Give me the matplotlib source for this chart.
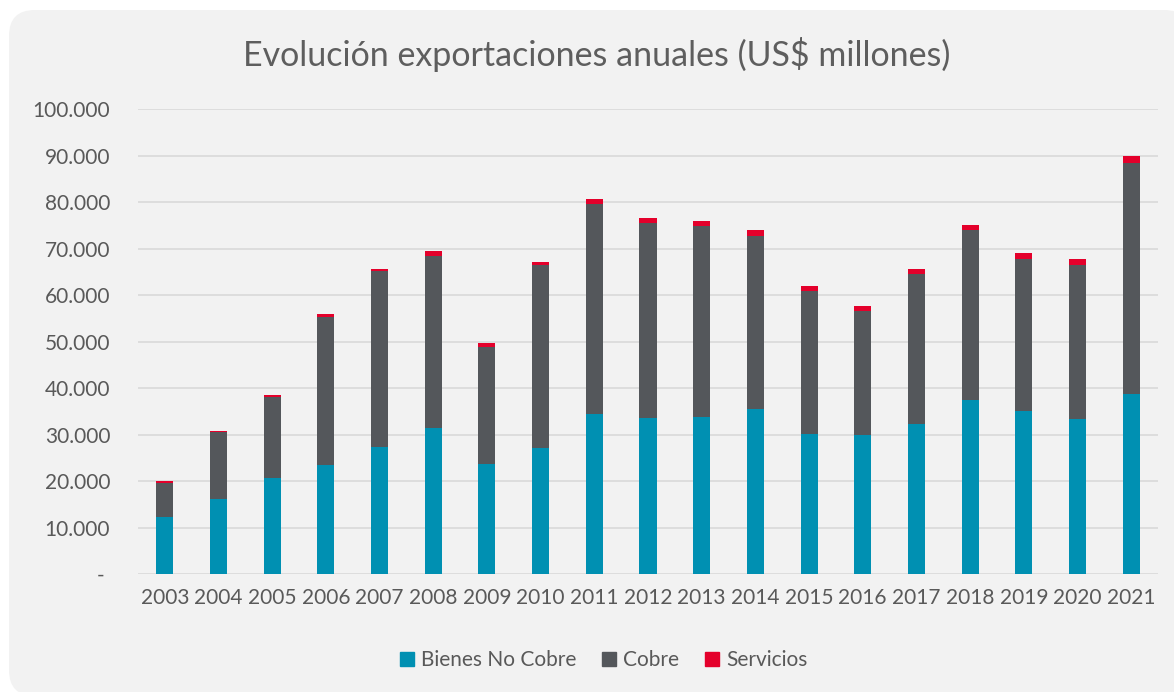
import matplotlib
matplotlib.use("Agg")
import matplotlib.pyplot as plt
from matplotlib.patches import FancyBboxPatch
from matplotlib.ticker import FuncFormatter, MultipleLocator
from matplotlib.lines import Line2D
import numpy as np

years = ["2003", "2004", "2005", "2006", "2007", "2008", "2009", "2010", "2011", "2012",
         "2013", "2014", "2015", "2016", "2017", "2018", "2019", "2020", "2021"]
bienes_no_cobre = [12400, 16200, 20600, 23400, 27400, 31500, 23600, 27100, 34400, 33500,
                   33900, 35500, 30100, 30000, 32400, 37400, 35000, 33300, 38800]
cobre = [7300, 14400, 17600, 32000, 37800, 37000, 25300, 39300, 45100, 41900,
         40900, 37200, 30700, 26600, 32200, 36500, 32800, 33100, 49600]
servicios = [350, 200, 300, 500, 500, 900, 800, 800, 1200, 1200,
             1200, 1300, 1100, 1000, 1000, 1100, 1300, 1300, 1400]
series_names = ["Bienes No Cobre", "Cobre", "Servicios"]
title = "Evolución exportaciones anuales (US$ millones)"

c_teal = "#0090B2"
c_gray = "#54575B"
c_red = "#E4002B"
txt = "#595959"
plt.rcParams['font.family'] = ['Lato', 'DejaVu Sans']

W, H = 1174, 692
fig = plt.figure(figsize=(W / 100, H / 100), dpi=100)
fig.patch.set_facecolor("white")
bg = FancyBboxPatch((9 / W, -4 / H), (1190 - 9) / W, (H - 10 + 4) / H,
                    boxstyle="round,pad=0,rounding_size=0.022",
                    transform=fig.transFigure, facecolor="#F2F2F2",
                    edgecolor="none", mutation_aspect=W / H, zorder=-10)
fig.patches.append(bg)

left, right, bottom, top = 138, 1158, 574.3, 109
ax = fig.add_axes([left / W, 1 - bottom / H, (right - left) / W, (bottom - top) / H])
ax.set_facecolor("none")
ax.set_zorder(5)

x = np.arange(len(years))
bnc = np.array(bienes_no_cobre)
cob = np.array(cobre)
ser = np.array(servicios)
bw = 0.317
ax.bar(x, bnc, width=bw, color=c_teal, zorder=3)
ax.bar(x, cob, width=bw, bottom=bnc, color=c_gray, zorder=3)
ax.bar(x, ser, width=bw, bottom=bnc + cob, color=c_red, zorder=3)

ax.set_xlim(-0.5, len(years) - 0.5)
ax.set_ylim(0, 100000)
ax.yaxis.set_major_locator(MultipleLocator(10000))
ax.yaxis.set_major_formatter(FuncFormatter(
    lambda v, p: "- " if v == 0 else f"{int(v):,}".replace(",", ".")))
ax.grid(axis="y", color="#D9D9D9", linewidth=1.2, zorder=0)
for s in ax.spines.values():
    s.set_visible(False)
ax.set_xticks(x)
ax.set_xticklabels(years)
ax.tick_params(axis="both", length=0, labelsize=15, labelcolor=txt)
ax.tick_params(axis="y", pad=20)
ax.tick_params(axis="x", pad=10)

fig.text(597 / W, 1 - 55 / H, title, ha="center", va="center",
         fontsize=24.5, color="#5E5E5E", fontweight="normal")

handles = [Line2D([], [], marker="s", linestyle="none", markersize=10,
                  markerfacecolor=c, markeredgecolor=c) for c in (c_teal, c_gray, c_red)]
fig.legend(handles, series_names, loc="center", bbox_to_anchor=(602 / W, 1 - 660 / H),
           ncol=3, frameon=False, fontsize=15, labelcolor=txt,
           handletextpad=0.15, columnspacing=1.1, handlelength=1.0)

fig.savefig("out.png", dpi=100, facecolor="white")
